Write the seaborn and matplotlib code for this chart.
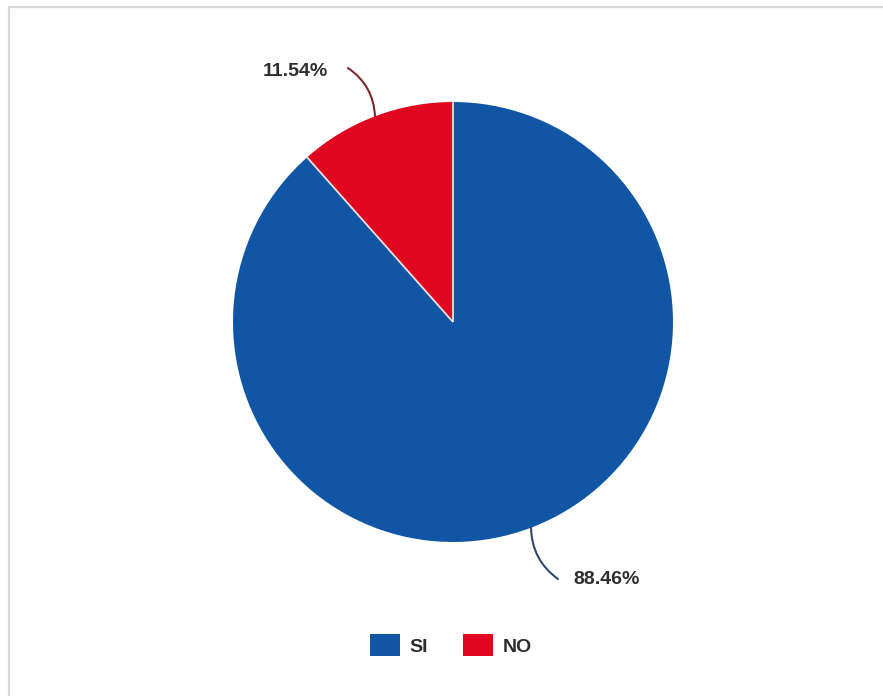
import numpy as np
import matplotlib
matplotlib.use("Agg")
import matplotlib.pyplot as plt
from matplotlib.lines import Line2D
from matplotlib.patches import Patch
import seaborn as sns

# ---- data ----
categories = ["SI", "NO"]
values = [88.46, 11.54]
label_texts = ["88.46%", "11.54%"]
colors = ["#1156a5", "#e0061f"]
line_colors = ["#34476b", "#7d2a2e"]

sns.set_theme(style="white")
plt.rcParams["font.family"] = ["Liberation Sans", "DejaVu Sans"]

W, H = 883, 696
fig = plt.figure(figsize=(W / 100, H / 100), dpi=100)
ax = fig.add_axes([0, 0, 1, 1])

cx, cy, R = 453, H - 322, 220
start = 90 + 360 * values[1] / sum(values)
wedges, _ = ax.pie(values, colors=colors, startangle=start, counterclock=True,
                   radius=R, center=(cx, cy), frame=True,
                   wedgeprops=dict(edgecolor="none", linewidth=0))
ax.set_xlim(0, W)
ax.set_ylim(0, H)
ax.set_aspect("equal")
ax.axis("off")

# thin light separators between the two slices
for w in wedges:
    a = np.deg2rad(w.theta1)
    ax.plot([cx, cx + R * np.cos(a)], [cy, cy + R * np.sin(a)],
            color="#f2dfe3", lw=1.3, solid_capstyle="butt")

# label placement (layout)
leader_end = {"SI": (558, H - 579), "NO": (348, H - 68)}
text_pos = {"SI": (573, H - 580, "left"), "NO": (328, H - 72, "right")}
for w, cat, txt, lc in zip(wedges, categories, label_texts, line_colors):
    ang = np.deg2rad((w.theta1 + w.theta2) / 2)
    px, py = cx + R * np.cos(ang), cy + R * np.sin(ang)
    ex, ey = leader_end[cat]
    ax.annotate("", xy=(px, py), xytext=(ex, ey),
                arrowprops=dict(arrowstyle="-", color=lc, lw=1.5,
                                shrinkA=0, shrinkB=0,
                                connectionstyle="arc3,rad=-0.25"))
    tx, ty, ha = text_pos[cat]
    ax.text(tx, ty, txt, ha=ha, va="center", fontsize=14,
            fontweight="bold", color="#2e2e2e")

handles = [Patch(facecolor=c, edgecolor="none") for c in colors]
leg = ax.legend(handles, categories, loc="center", bbox_to_anchor=(451 / W, 1 - 645 / H),
                ncol=2, frameon=False, handlelength=1.55, handleheight=1.3,
                handletextpad=0.5, columnspacing=1.8,
                prop=dict(size=14, weight="bold"))
for t in leg.get_texts():
    t.set_color("#2e2e2e")

# screenshot frame edges
fig.add_artist(Line2D([8.5 / W, 1], [1 - 6.5 / H, 1 - 6.5 / H], color="#d8d8d8", lw=1.6,
                      transform=fig.transFigure))
fig.add_artist(Line2D([8.5 / W, 8.5 / W], [0, 1 - 6.5 / H], color="#d8d8d8", lw=1.6,
                      transform=fig.transFigure))

fig.savefig("out.png", dpi=100, facecolor="white")
